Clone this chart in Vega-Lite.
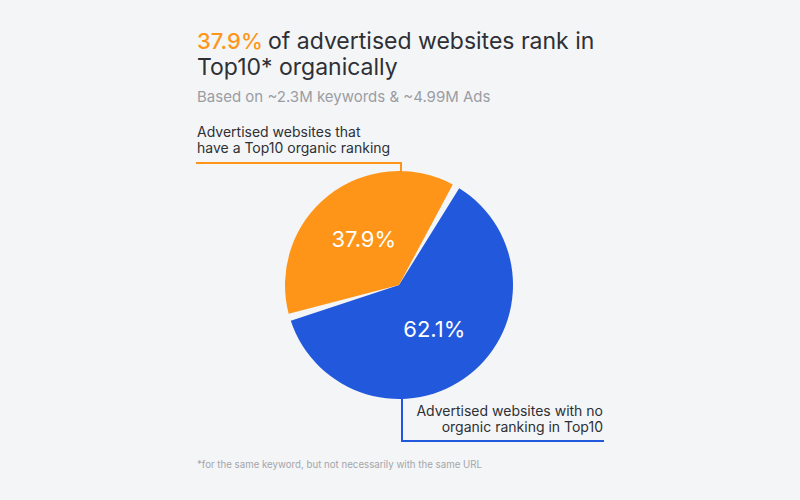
{
  "$schema": "https://vega.github.io/schema/vega-lite/v6.json",
  "width": 800,
  "height": 500,
  "autosize": "none",
  "padding": 0,
  "background": "#f4f5f7",
  "config": {"view": {"stroke": null}, "font": "Inter"},
  "data": {
    "values": [
      {"category": "Advertised websites with no organic ranking in Top10", "share": 62.1, "label": "62.1%", "rank": 1},
      {"category": "Advertised websites that have a Top10 organic ranking", "share": 37.9, "label": "37.9%", "rank": 2}
    ]
  },
  "layer": [
    {
      "mark": {"type": "arc", "x": 399, "y": 285, "outerRadius": 114, "padAngle": 0.065},
      "encoding": {
        "theta": {"field": "share", "type": "quantitative", "stack": true, "scale": {"range": [0.5236, 6.8068]}},
        "order": {"field": "rank", "type": "quantitative"},
        "color": {
          "field": "category",
          "type": "nominal",
          "scale": {
            "domain": ["Advertised websites with no organic ranking in Top10", "Advertised websites that have a Top10 organic ranking"],
            "range": ["#2259dc", "#ff9518"]
          },
          "legend": null
        }
      }
    },
    {
      "mark": {"type": "text", "x": 399, "y": 285, "radius": 57, "fontSize": 22, "color": "white", "align": "center", "baseline": "middle"},
      "encoding": {
        "theta": {"field": "share", "type": "quantitative", "stack": true},
        "order": {"field": "rank", "type": "quantitative"},
        "text": {"field": "label"}
      }
    },
    {
      "data": {"values": [{}]},
      "mark": {"type": "text", "x": 197, "y": 49, "align": "left", "baseline": "alphabetic", "fontSize": 22, "fontWeight": 500, "color": "#ff9518", "text": "37.9%"},
      "encoding": {}
    },
    {
      "data": {"values": [{}]},
      "mark": {"type": "text", "x": 268, "y": 49, "align": "left", "baseline": "alphabetic", "fontSize": 23, "fontWeight": 400, "color": "#2e3035", "text": "of advertised websites rank in"},
      "encoding": {}
    },
    {
      "data": {"values": [{}]},
      "mark": {"type": "text", "x": 197, "y": 75, "align": "left", "baseline": "alphabetic", "fontSize": 23, "fontWeight": 400, "color": "#2e3035", "text": "Top10* organically"},
      "encoding": {}
    },
    {
      "data": {"values": [{}]},
      "mark": {"type": "text", "x": 197, "y": 102, "align": "left", "baseline": "alphabetic", "fontSize": 15, "color": "#9a9da3", "text": "Based on ~2.3M keywords & ~4.99M Ads"},
      "encoding": {}
    },
    {
      "data": {"values": [{}]},
      "mark": {"type": "text", "x": 197, "y": 136.5, "align": "left", "baseline": "alphabetic", "fontSize": 14, "lineHeight": 16, "color": "#2e3035", "text": ["Advertised websites that", "have a Top10 organic ranking"]},
      "encoding": {}
    },
    {
      "data": {"values": [{}]},
      "mark": {"type": "text", "x": 603, "y": 415.5, "align": "right", "baseline": "alphabetic", "fontSize": 14, "lineHeight": 16, "color": "#2e3035", "text": ["Advertised websites with no", "organic ranking in Top10"]},
      "encoding": {}
    },
    {
      "data": {"values": [{}]},
      "mark": {"type": "text", "x": 197, "y": 468, "align": "left", "baseline": "alphabetic", "fontSize": 9.7, "color": "#a3a6ab", "text": "*for the same keyword, but not necessarily with the same URL"},
      "encoding": {}
    },
    {
      "data": {"values": [{}]},
      "mark": {"type": "rule", "stroke": "#ff9518", "strokeWidth": 2},
      "encoding": {"x": {"value": 196}, "y": {"value": 163}, "x2": {"value": 402}, "y2": {"value": 163}}
    },
    {
      "data": {"values": [{}]},
      "mark": {"type": "rule", "stroke": "#ff9518", "strokeWidth": 2},
      "encoding": {"x": {"value": 401}, "y": {"value": 162}, "x2": {"value": 401}, "y2": {"value": 174}}
    },
    {
      "data": {"values": [{}]},
      "mark": {"type": "rule", "stroke": "#2259dc", "strokeWidth": 2},
      "encoding": {"x": {"value": 402}, "y": {"value": 396}, "x2": {"value": 402}, "y2": {"value": 442}}
    },
    {
      "data": {"values": [{}]},
      "mark": {"type": "rule", "stroke": "#2259dc", "strokeWidth": 2},
      "encoding": {"x": {"value": 401}, "y": {"value": 441}, "x2": {"value": 604}, "y2": {"value": 441}}
    }
  ]
}
